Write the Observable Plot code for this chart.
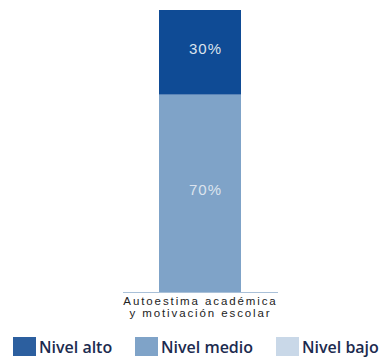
<!DOCTYPE html>
<html><head><meta charset="utf-8">
<script src="https://cdn.jsdelivr.net/npm/d3@7"></script>
<script src="https://cdn.jsdelivr.net/npm/@observablehq/plot@0.6"></script>
<style>
body{margin:0;background:#fff;font-family:"Liberation Sans",Arial,sans-serif;}
#legend{height:33px;font-family:"Open Sans",sans-serif;font-weight:600;font-size:16px;line-height:1;color:#1c2b4f;}
.item{display:flex;align-items:center;position:absolute;top:12px;}
.sw{width:23px;height:19px;margin-right:3px;}
g[aria-label="x-axis tick label"]{letter-spacing:1.9px;}
g[aria-label="text"]{letter-spacing:1px;}
</style></head>
<body>
<div id="chart"></div>
<div id="legend" style="position:relative;width:380px;"></div>
<script>
const category = "Autoestima académica\ny motivación escolar";
const levels = ["Nivel medio", "Nivel alto", "Nivel bajo"];
const values = [70, 30, 0];
const legendOrder = ["Nivel alto", "Nivel medio", "Nivel bajo"];
const colors = {"Nivel alto": "#0f4b95", "Nivel medio": "#7fa3c8", "Nivel bajo": "#c9d8e8"};
const legendColors = {"Nivel alto": "#2c5f9f", "Nivel medio": "#7fa3c8", "Nivel bajo": "#c9d8e8"};

const data = levels.map((l, i) => ({cat: category, level: l, value: values[i]}));

const chart = Plot.plot({
  width: 380, height: 325,
  marginTop: 10, marginBottom: 33, marginLeft: 123, marginRight: 102,
  x: {domain: [category], paddingInner: 0.47, paddingOuter: 0.235, label: null, tickSize: 0},
  y: {domain: [0, 100], axis: null},
  color: {domain: Object.keys(colors), range: Object.values(colors)},
  style: {fontFamily: "Liberation Sans, Arial, sans-serif", fontSize: "11.5px", color: "#333"},
  marks: [
    Plot.barY(data, {x: "cat", y: "value", fill: "level", order: levels}),
    Plot.text(data.filter(d => d.value > 0), Plot.stackY({x: "cat", y: "value", z: "level", order: levels, text: d => d.value + "%", fill: "#dce3ee", fontSize: 15, dx: 5, dy: -4})),
    Plot.ruleY([0], {stroke: "#a9c0d8", strokeWidth: 1}),
    Plot.axisX({tickSize: 0, tickPadding: 4, fontSize: 11.5, lineHeight: 1.05, fill: "#222"})
  ]
});
document.getElementById("chart").appendChild(chart);

const lx = [13, 135, 276];
const leg = document.getElementById("legend");
legendOrder.forEach((l, i) => {
  const it = document.createElement("div");
  it.className = "item";
  it.style.left = lx[i] + "px";
  it.innerHTML = `<span class="sw" style="background:${legendColors[l]}"></span><span>${l}</span>`;
  leg.appendChild(it);
});
</script>
</body></html>
